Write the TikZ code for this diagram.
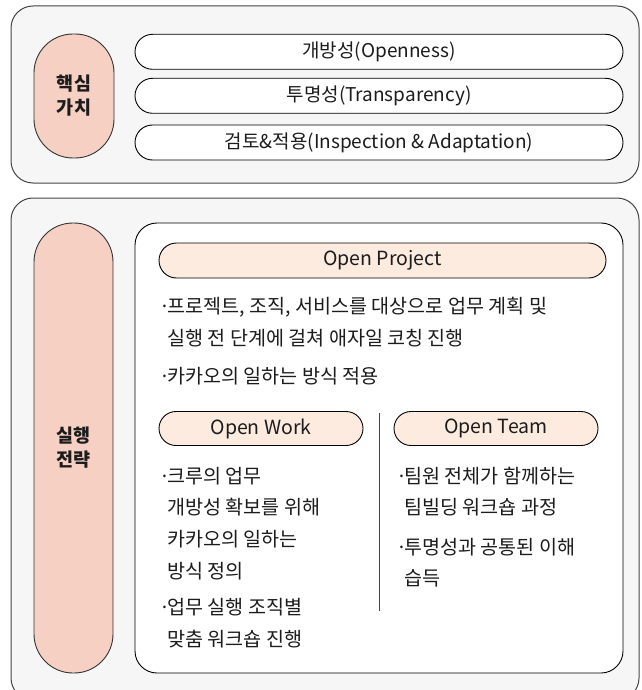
\documentclass[tikz,border=0pt]{standalone}
\usepackage{fontspec}
\setmainfont{Noto Sans CJK KR}
\newcommand{\bul}{\makebox[7pt][l]{\kern-0.5pt·}}
\begin{document}
\begin{tikzpicture}[x=1pt,y=-1pt,
  every node/.style={text=txt},
  panel/.style={draw=edge,line width=1pt,fill=panelbg,rounded corners=22pt},
  whitebox/.style={draw=black,line width=0.9pt,fill=white,rounded corners=22pt},
  bigpill/.style={draw=black!80,line width=0.9pt,fill=salmon,rounded corners=39pt,inner sep=0pt,font=\bfseries\fontsize{18.5}{24}\selectfont,align=center},
  valpill/.style={draw=black,line width=0.9pt,fill=white,rounded corners=17.5pt,minimum width=488pt,minimum height=35pt,inner sep=0pt,font=\fontsize{19}{22}\selectfont},
  subpill/.style={draw=black,line width=0.9pt,fill=peach,rounded corners=17pt,minimum height=34pt,inner sep=0pt,font=\fontsize{19.5}{22}\selectfont},
  body/.style={anchor=base west,inner sep=0pt,font=\fontsize{19.6}{22}\selectfont},
]
\definecolor{txt}{HTML}{1C1C1C}
\definecolor{edge}{HTML}{444444}
\definecolor{panelbg}{HTML}{F6F6F6}
\definecolor{salmon}{HTML}{F5D0C3}
\definecolor{peach}{HTML}{FDEBDF}
\useasboundingbox (0,0) rectangle (641,690);

% top panel
\draw[panel] (11,6) rectangle (639,183);
\node[bigpill,minimum width=80pt,minimum height=124pt] (core) at (74,96) {핵심\\가치};
\node[valpill] (v1) at (379,51.8) {개방성(Openness)};
\node[valpill] (v2) at (379,95.8) {투명성(Transparency)};
\node[valpill] (v3) at (379,142.5) {검토\&적용(Inspection \& Adaptation)};

% bottom panel
\draw[panel] (11,198) rectangle (639,700);
\node[bigpill,minimum width=79pt,minimum height=450pt] (exec) at (73.5,448) {실행\\전략};
\node[whitebox,minimum width=488pt,minimum height=450pt,inner sep=0pt] (inner) at (379,448) {};

\node[subpill,minimum width=447pt,minimum height=35pt,rounded corners=17.5pt] (op) at (382.5,260.5) {Open Project};
\node[body] (op1) at (160,313) {\bul 프로젝트, 조직, 서비스를 대상으로 업무 계획 및};
\node[body] (op2) at (167,345) {실행 전 단계에 걸쳐 애자일 코칭 진행};
\node[body] (op3) at (160,383) {\bul 카카오의 일하는 방식 적용};

\node[subpill,minimum width=204pt] (ow) at (261,428.5) {Open Work};
\node[subpill,minimum width=204pt] (ot) at (496,428.5) {Open Team};
\coordinate (dtop) at (379,413);
\coordinate (dbot) at (379,611);
\draw[edge,line width=0.9pt] (dtop) -- (dbot);

\node[body] (w1) at (160,483) {\bul 크루의 업무};
\node[body] (w2) at (167,514) {개방성 확보를 위해};
\node[body] (w3) at (167,546) {카카오의 일하는};
\node[body] (w4) at (167,578) {방식 정의};
\node[body] (w5) at (160,614) {\bul 업무 실행 조직별};
\node[body] (w6) at (167,646) {맞춤 워크숍 진행};

\node[body] (t1) at (397,483) {\bul 팀원 전체가 함께하는};
\node[body] (t2) at (404,514) {팀빌딩 워크숍 과정};
\node[body] (t3) at (397,554) {\bul 투명성과 공통된 이해};
\node[body] (t4) at (404,585) {습득};
\end{tikzpicture}
\end{document}
